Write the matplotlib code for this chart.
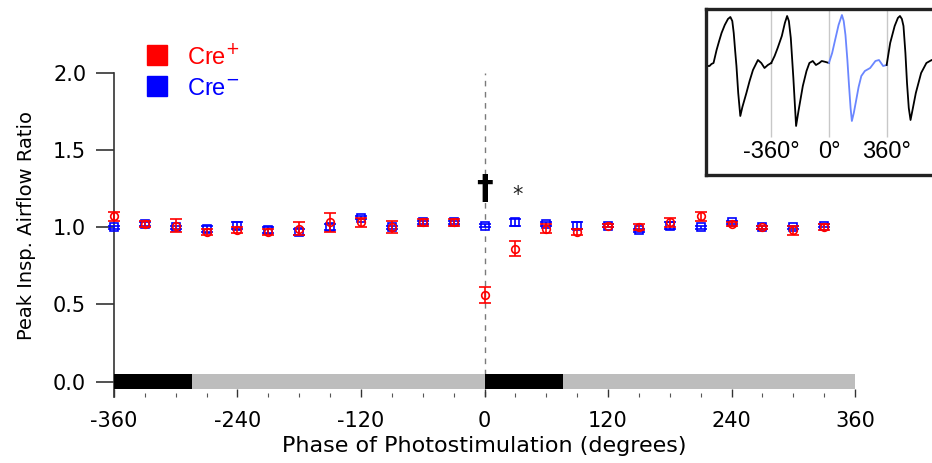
import matplotlib
matplotlib.use("Agg")
import matplotlib.pyplot as plt
from matplotlib.lines import Line2D
from matplotlib.ticker import MultipleLocator

# ---------------- data ----------------
phase = [-360, -330, -300, -270, -240, -210, -180, -150, -120, -90, -60, -30,
         0, 30, 60, 90, 120, 150, 180, 210, 240, 270, 300, 330]
cre_pos = [1.07, 1.02, 1.01, 0.97, 0.98, 0.97, 0.99, 1.03, 1.03, 1.00, 1.03, 1.03,
           0.56, 0.86, 0.99, 0.97, 1.01, 1.00, 1.03, 1.07, 1.02, 1.00, 0.98, 1.00]
cre_pos_err = [0.03, 0.02, 0.04, 0.02, 0.02, 0.02, 0.04, 0.06, 0.03, 0.04, 0.02, 0.02,
               0.05, 0.05, 0.03, 0.02, 0.01, 0.02, 0.03, 0.03, 0.01, 0.01, 0.03, 0.02]
cre_neg = [1.00, 1.02, 1.00, 0.99, 1.01, 0.98, 0.97, 1.00, 1.06, 1.00, 1.03, 1.03,
           1.01, 1.03, 1.02, 1.01, 1.01, 0.98, 1.01, 1.00, 1.03, 1.00, 1.00, 1.01]
cre_neg_err = [0.01, 0.01, 0.01, 0.02, 0.02, 0.02, 0.02, 0.02, 0.01, 0.01, 0.01, 0.01,
               0.01, 0.02, 0.01, 0.02, 0.01, 0.01, 0.02, 0.01, 0.01, 0.01, 0.01, 0.01]
stim_on = [(-360, 76), (0, 76)]
stim_off = [(-284, 284), (76, 284)]
x_ticks = [-360, -240, -120, 0, 120, 240, 360]
x_ticklabels = ["-360", "-240", "-120", "0", "120", "240", "360"]
y_ticks = [0.0, 0.5, 1.0, 1.5, 2.0]
y_ticklabels = ["0.0", "0.5", "1.0", "1.5", "2.0"]
legend_labels = ["Cre$^{+}$", "Cre$^{\u2212}$"]

# inset airflow trace (degrees, flow in arbitrary units)
trace1_deg = [-767, -755, -745, -733, -720, -701, -685, -670, -650, -630, -615, -603, -594,
              -585, -577, -566, -553, -540, -515, -495, -474, -443, -422, -402, -381, -360]
trace1_flow = [-1, -3, -3, -1, 0, 13, 22, 30, 38, 44, 46, 42, 30,
               12, -3, -30, -53, -44, -30, -18, -7, 3, 0, -5, -2, 0]
trace2_deg = [-360, -339, -320, -294, -275, -261, -250, -238, -222, -205, -190, -163,
              -140, -122, -101, -81, -60, -45, -20, 0]
trace2_flow = [0, 7, 15, 27, 40, 47, 42, 25, -15, -63, -48, -23,
               -8, 0, 2, -2, 0, 2, 1, 0]
trace3_deg = [0, 20, 37, 60, 81, 92, 103, 115, 125, 135, 143, 155, 169, 185, 202, 224,
              257, 290, 312, 338, 360]
trace3_flow = [0, 10, 22, 38, 48, 42, 28, 3, -22, -45, -58, -50, -38, -24, -13, -8,
               -5, 2, 3, -3, -2]
trace4_deg = [360, 382, 410, 430, 443, 455, 465, 477, 487, 498, 509, 525, 542, 575,
              608, 641, 660, 676]
trace4_flow = [-2, 20, 37, 45, 47, 44, 37, 10, -20, -45, -57, -44, -30, -10,
               0, 3, 1, -2]
inset_marks = [-360, 0, 360]
inset_labels = ["-360\u00b0", "0\u00b0", "360\u00b0"]

# ---------------- figure ----------------
plt.rcParams['font.family'] = ['DejaVu Sans']
fig = plt.figure(figsize=(9.32, 4.63), dpi=100)
W, H = 932.0, 463.0
ax = fig.add_axes([114 / W, 1 - 397 / H, 741 / W, (397 - 72.7) / H])
ax.set_xlim(-360, 360)
ax.set_ylim(-0.1, 2.0)

ax.axvline(0, color='#7a7a7a', lw=1.0, dashes=(4, 4), zorder=1)
ax.broken_barh(stim_off, (-0.046, 0.092), facecolor='#bdbdbd', edgecolor='none', zorder=2)
ax.broken_barh(stim_on, (-0.046, 0.092), facecolor='black', edgecolor='none', zorder=3)

ax.errorbar(phase, cre_neg, yerr=cre_neg_err, fmt='s', mfc='none', mec='#0000ff',
            ecolor='#0000ff', ms=5.5, mew=1.2, capsize=4.5, elinewidth=1.2, capthick=1.2,
            zorder=4, clip_on=False)
ax.errorbar(phase, cre_pos, yerr=cre_pos_err, fmt='o', mfc='none', mec='#ff0000',
            ecolor='#ff0000', ms=5.5, mew=1.2, capsize=4.5, elinewidth=1.2, capthick=1.2,
            zorder=5, clip_on=False)

ax.text(0, 1.245, '\u2020', ha='center', va='center', fontsize=24, fontweight='bold', color='black')
ax.text(32, 1.21, '*', ha='center', va='center', fontsize=15, color='#222222')

for s in ['top', 'right', 'bottom']:
    ax.spines[s].set_visible(False)
ax.spines['left'].set_color('#333333')
ax.spines['left'].set_linewidth(1.2)

ax.set_xticks(x_ticks)
ax.set_xticklabels(x_ticklabels)
ax.xaxis.set_minor_locator(MultipleLocator(30))
ax.set_yticks(y_ticks)
ax.set_yticklabels(y_ticklabels)
ax.tick_params(axis='x', which='major', direction='in', length=6, width=1.0, pad=10,
               labelsize=15, colors='#333333', labelcolor='black')
ax.tick_params(axis='x', which='minor', direction='in', length=3, width=0.8, colors='#555555')
ax.tick_params(axis='y', which='major', direction='out', length=13, width=1.2, pad=7,
               labelsize=15, colors='#333333', labelcolor='black')
ax.set_xlabel('Phase of Photostimulation (degrees)', fontsize=16, labelpad=4)
ax.set_ylabel('Peak Insp. Airflow Ratio', fontsize=14)
ax.yaxis.set_label_coords(-0.105, 0.53)

# legend
leg_colors = ['#ff0000', '#0000ff']
leg_y = [55, 86]
leg_base = [64, 95]
for c, yy, yb, lab in zip(leg_colors, leg_y, leg_base, legend_labels):
    fig.add_artist(Line2D([157 / W], [1 - yy / H], marker='s', ms=15, color=c, ls='none',
                          transform=fig.transFigure))
    fig.text(187 / W, 1 - yb / H, lab, color=c, fontsize=17, va='baseline', ha='left',
             family='Liberation Sans')

# inset
ins = fig.add_axes([706 / W, 1 - 175 / H, (945 - 706) / W, (175 - 9) / H])
ins.set_xlim(-767, 724)
ins.set_ylim(-112, 54)
ins.vlines(inset_marks, -74, 54, color='#c8c8c8', lw=1.0, zorder=1)
ins.plot(trace1_deg, trace1_flow, color='black', lw=1.3, zorder=2)
ins.plot(trace2_deg, trace2_flow, color='black', lw=1.3, zorder=2)
ins.plot(trace3_deg, trace3_flow, color='#6a86ff', lw=1.3, zorder=2)
ins.plot(trace4_deg, trace4_flow, color='black', lw=1.3, zorder=2)
for xm, lab in zip(inset_marks, inset_labels):
    ins.text(xm, -89, lab, ha='center', va='center', fontsize=17, family='Liberation Sans')
ins.set_xticks([])
ins.set_yticks([])
for s in ins.spines.values():
    s.set_linewidth(2.4)
    s.set_color('#222222')

fig.savefig('out.png', dpi=100)
